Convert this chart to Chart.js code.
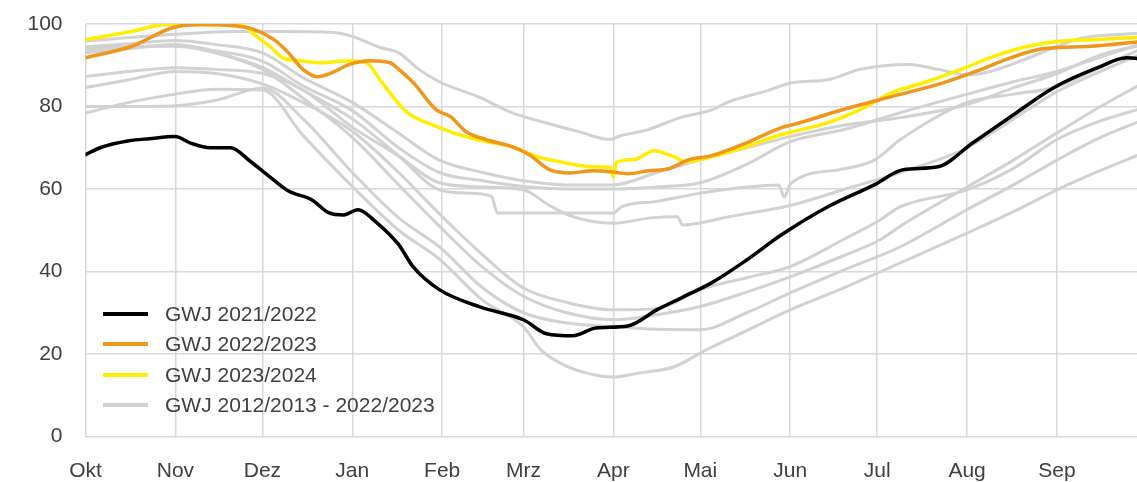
<!DOCTYPE html>
<html lang="de">
<head>
<meta charset="utf-8">
<title>Gasspeicher Füllstand</title>
<script src="https://cdn.jsdelivr.net/npm/chart.js@4.4.1/dist/chart.umd.min.js"></script>
<style>
  html, body { margin: 0; padding: 0; background: #fff; overflow: hidden; }
  #wrap { position: relative; width: 1166px; height: 482px; }
</style>
</head>
<body>
<div id="wrap"><canvas id="c" width="1166" height="482"></canvas></div>
<script>
// Gas year axis: day offset from 1 October, month starts and their labels
const monthStarts = [0, 31, 61, 92, 123, 151, 182, 212, 243, 273, 304, 335, 365];
const monthLabels = ['Okt', 'Nov', 'Dez', 'Jan', 'Feb', 'Mrz', 'Apr', 'Mai', 'Jun', 'Jul', 'Aug', 'Sep', ''];
const yTicks = [0, 20, 40, 60, 80, 100];

// Fill level in percent, [day of gas year, value]
const gwj2122 = [[0,68.3],[5,70],[15,71.7],[22,72.2],[31,72.7],[36,71.2],[43,70],[50,70],[57,66.6],[64,62.7],[70,59.5],[78,57.4],[84,54.2],[89,53.7],[94,55],[100,52.1],[108,46.5],[113,41.1],[122,35.6],[136,31.4],[151,28.3],[159,24.9],[168,24.4],[176,26.3],[187,26.8],[197,30.7],[206,33.8],[216,37.3],[228,42.8],[240,48.9],[256,55.7],[272,61],[282,64.7],[294,65.4],[306,71.2],[320,78],[334,84.6],[349,89.4],[359,91.8],[365,91.4]];

const gwj2223 = [[0,91.8],[16,94.6],[30,99.1],[40,99.9],[51,99.6],[58,98.7],[65,96.2],[70,93],[75,89],[80,87.2],[85,88.2],[91,90.2],[98,91.1],[105,90.6],[108,89],[113,85.8],[121,79.2],[126,77.5],[131,74],[138,72],[146,70.5],[153,68.3],[160,64.7],[167,63.9],[175,64.4],[181,64.2],[187,63.7],[194,64.4],[201,64.9],[208,67.1],[216,68.1],[228,71.2],[240,74.9],[244,75.6],[261,79.2],[278,82.4],[296,85.8],[307,88.5],[319,91.8],[330,94],[347,94.6],[365,95.8]];

const gwj2324 = [[0,96.2],[16,98.2],[28,99.9],[54,99.6],[59,97],[64,94.3],[68,91.8],[74,91.1],[81,90.6],[91,91.1],[97,90.6],[101.5,86.5],[106,82.4],[111,78.5],[122,74.9],[131,72.7],[138,71.5],[147,70.3],[156,67.8],[165,66.4],[175,65.4],[181,65.2],[182,63],[183,66.4],[189,67.1],[196,69.3],[203,67.8],[207,66.6],[216,67.8],[228,70.3],[240,73.2],[244,73.9],[256,76.1],[267,79.2],[278,83.3],[290,86],[302,89],[313,92.1],[325,94.6],[336,95.8],[347,96.2],[365,96.8]];

// Earlier gas years 2012/2013 - 2020/2021
const grayA = [[0,95.9],[31,97.5],[51,98.2],[68,98.2],[85,98],[92,97],[101.6,94.3],[108,93],[115,89],[122,86],[136,82.2],[147,78.5],[159,76],[170,73.9],[181,72],[184,72.8],[194,74.4],[205,77.3],[216,79.2],[222,81.2],[234,83.6],[244,85.8],[256,86.5],[267,89],[284,90.2],[294,89],[304,87.7],[312,88.5],[326,92],[343,96.5],[365,97.8]];
const grayB = [[0,94.5],[15,95.2],[31,96],[45,95],[61,93],[75,87],[92,81],[108,73.5],[122,67],[137,64],[151,62],[166,61],[182,61],[197,64],[212,67.1],[228,70],[243,72.7],[262,75.5],[281,77.3],[304,80.5],[320,84.5],[335,88],[350,92.5],[365,95]];
const grayC = [[0,93.5],[15,94.3],[31,95],[45,93.5],[61,91],[75,85],[92,79],[108,70],[122,64],[137,62],[151,60.6],[166,60],[182,60],[197,60.5],[212,61.5],[228,66],[243,71.5],[262,74.5],[281,78.5],[304,83],[320,86],[335,88.5],[350,92],[365,95.5]];
const grayD = [[0,94],[15,94.5],[31,94.6],[45,93],[61,89.5],[75,84],[92,77],[108,68],[122,59.8],[132,59],[140,58.2],[142,54.2],[160,54.2],[182,54.2],[185,55.7],[197,57],[212,59],[228,60.5],[239,61],[241,58],[243,61.2],[260,64.7],[272,67],[281,72],[304,81],[320,83],[335,84.8],[350,89.5],[365,94.3]];
const grayE = [[0,87.3],[15,88.5],[31,89.4],[45,89],[61,88],[75,84],[92,75],[108,68],[122,61.5],[137,60.5],[151,59.8],[160,56],[168,53.3],[182,51.7],[195,53],[204,53.3],[206,51.3],[212,51.8],[222,53.3],[243,56],[262,60],[281,64],[304,70],[320,77],[335,83.6],[350,88.5],[365,93]];
const grayF = [[0,84.6],[15,86.5],[31,88.5],[45,88],[61,85.5],[75,81],[92,74],[108,64],[122,54],[137,44],[151,36],[166,32.5],[182,30.7],[197,31],[212,35.6],[228,38.5],[243,41.2],[262,48],[274,52.5],[281,55.7],[304,59.8],[320,65],[335,72],[350,76.5],[365,79.7]];
const grayG = [[0,93],[15,94],[31,95],[45,93],[61,89],[75,82],[92,72.5],[108,61],[122,51],[137,41],[151,34],[166,30],[182,28.3],[197,29.5],[212,31.5],[228,35],[243,38.7],[262,44],[274,47.7],[281,51],[304,60.5],[320,67],[335,73.6],[350,80],[365,85.8]];
const grayH = [[0,80],[15,80],[31,80.2],[45,81.5],[61,84.5],[75,77],[92,64],[108,53],[122,46],[137,36],[151,30],[166,27.5],[182,26.6],[197,26],[212,25.9],[228,30],[243,34.8],[262,40.5],[281,46],[304,55],[320,61],[335,67],[350,72.5],[365,76.8]];
const grayI = [[0,78.4],[15,81],[31,83],[45,84.2],[61,84],[75,73],[92,60.6],[108,50],[122,43],[137,33],[151,26.6],[157,21],[166,17],[175,15],[182,14.4],[191,15.4],[203,16.9],[214,21],[226,25],[243,30.7],[260,35.6],[281,42.1],[304,49.3],[320,54.5],[335,59.8],[350,64.5],[365,68.8]];

const grayYears = [grayA, grayB, grayC, grayD, grayE, grayF, grayG, grayH, grayI];

const COLORS = { black: '#000000', orange: '#f0961c', yellow: '#ffee00', gray: '#d2d2d2' };

const legendItems = [
  { label: 'GWJ 2021/2022', color: COLORS.black },
  { label: 'GWJ 2022/2023', color: COLORS.orange },
  { label: 'GWJ 2023/2024', color: COLORS.yellow },
  { label: 'GWJ 2012/2013 - 2022/2023', color: COLORS.gray }
];

const toPoints = arr => arr.map(([x, y]) => ({ x, y }));

const line = (label, pts, color, width, order) => ({
  label,
  data: toPoints(pts),
  borderColor: color,
  borderWidth: width,
  pointRadius: 0,
  fill: false,
  cubicInterpolationMode: 'monotone',
  borderJoinStyle: 'round',
  borderCapStyle: 'round',
  order
});

const datasets = [
  line('GWJ 2023/2024', gwj2324, COLORS.yellow, 3.5, 2),
  line('GWJ 2022/2023', gwj2223, COLORS.orange, 3.5, 1),
  line('GWJ 2021/2022', gwj2122, COLORS.black, 3.5, 3),
  ...grayYears.map((g, i) => line('GWJ grau ' + (i + 1), g, COLORS.gray, 3, 10 + i))
];

const FONT = '"Liberation Sans", Arial, sans-serif';

// Legend drawn inside the plot area, lower left
const insideLegend = {
  id: 'insideLegend',
  afterDatasetsDraw(chart) {
    const ctx = chart.ctx;
    const x0 = 103, x1 = 148, tx = 165;
    const rows = [314, 344, 375, 405];
    ctx.save();
    ctx.font = '21px ' + FONT;
    ctx.textBaseline = 'middle';
    ctx.lineCap = 'butt';
    legendItems.forEach((it, i) => {
      ctx.strokeStyle = it.color;
      ctx.lineWidth = 4;
      ctx.beginPath();
      ctx.moveTo(x0, rows[i]);
      ctx.lineTo(x1, rows[i]);
      ctx.stroke();
      ctx.fillStyle = '#404040';
      ctx.fillText(it.label, tx, rows[i] + 1);
    });
    ctx.restore();
  }
};

new Chart(document.getElementById('c'), {
  type: 'line',
  data: { datasets },
  plugins: [insideLegend],
  options: {
    responsive: false,
    animation: false,
    devicePixelRatio: 1,
    layout: { padding: { top: 24, right: 6, left: 0, bottom: 0 } },
    plugins: { legend: { display: false }, tooltip: { enabled: false } },
    scales: {
      x: {
        type: 'linear',
        min: 0,
        max: 365,
        afterBuildTicks: s => { s.ticks = monthStarts.map(v => ({ value: v })); },
        afterFit: s => { s.height = 45.5; },
        ticks: {
          autoSkip: false,
          maxRotation: 0,
          padding: 22,
          color: '#404040',
          font: { family: FONT, size: 21 },
          callback: v => monthLabels[monthStarts.indexOf(v)]
        },
        grid: { color: '#d9d9d9', lineWidth: 1.5, drawTicks: false },
        border: { display: false }
      },
      y: {
        min: 0,
        max: 100,
        afterBuildTicks: s => { s.ticks = yTicks.map(v => ({ value: v })); },
        afterFit: s => { s.width = 85.5; },
        ticks: {
          padding: 0,
          color: '#404040',
          font: { family: FONT, size: 21 }
        },
        grid: { color: '#d9d9d9', lineWidth: 1.5, drawTicks: true, tickLength: 23, tickColor: 'rgba(0,0,0,0)' },
        border: { display: false }
      }
    }
  }
});
</script>
</body>
</html>
